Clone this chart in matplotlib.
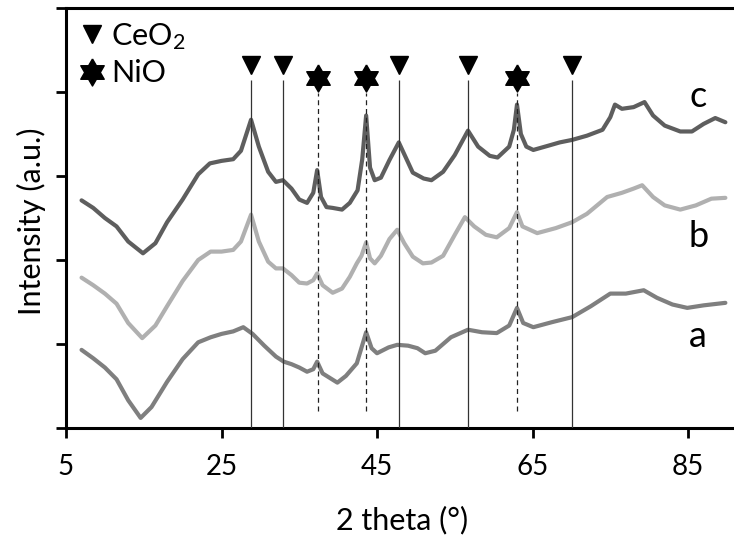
import matplotlib
matplotlib.use("Agg")
import matplotlib.pyplot as plt
from matplotlib.lines import Line2D

plt.rcParams['font.family'] = ['Lato', 'DejaVu Sans']
plt.rcParams['mathtext.fontset'] = 'custom'
plt.rcParams['mathtext.rm'] = 'Lato'
plt.rcParams['mathtext.default'] = 'regular'

# --- data ---
theta_c = [7.0, 8.5, 10, 11.5, 13, 14.9, 16.5, 18, 20, 22, 23.5, 25, 26.5, 27.5, 28.8, 29.8, 31, 32,
           32.9, 34, 35, 36, 36.8, 37.3, 37.8, 38.5, 39.3, 40.5, 41.5, 42.5, 43.1, 43.6, 44.1, 44.7,
           45.5, 46.6, 47.8, 48.8, 49.6, 51, 52, 53.5, 55, 56.7, 58, 59.5, 60.5, 62, 62.6, 63.0, 63.5,
           64.2, 65.1, 67, 68.5, 70.1, 72, 74, 75, 75.6, 76.5, 78, 79.4, 80.5, 82, 84, 85.5, 87, 88.5, 89.8]
int_c = [2.71, 2.62, 2.50, 2.40, 2.22, 2.08, 2.20, 2.45, 2.72, 3.02, 3.15, 3.18, 3.20, 3.30, 3.67, 3.35,
         3.05, 2.93, 2.95, 2.85, 2.72, 2.68, 2.80, 3.07, 2.75, 2.63, 2.62, 2.60, 2.68, 2.83, 3.20, 3.72,
         3.10, 2.95, 2.98, 3.19, 3.40, 3.20, 3.04, 2.97, 2.95, 3.05, 3.25, 3.54, 3.35, 3.24, 3.22, 3.35,
         3.55, 3.85, 3.50, 3.35, 3.31, 3.36, 3.40, 3.43, 3.48, 3.55, 3.70, 3.85, 3.80, 3.82, 3.88, 3.72,
         3.60, 3.53, 3.53, 3.62, 3.69, 3.64]

theta_b = [7.0, 8.5, 10, 11.5, 13, 14.8, 16.5, 18, 20, 22, 23.6, 25, 26.5, 27.5, 28.8, 29.8, 31, 32,
           32.9, 34, 35, 36, 36.8, 37.3, 38, 39.3, 40.5, 41.5, 42.4, 43.0, 43.6, 44.1, 44.7, 45.5, 46.6,
           47.6, 48.5, 49.6, 50.9, 52, 53.5, 55, 56.3, 57.5, 59, 60.4, 62, 63.0, 63.7, 65.6, 68, 70.1,
           72, 74.6, 76.5, 78, 79.1, 80.5, 82, 84, 86, 88, 89.8]
int_b = [1.79, 1.70, 1.60, 1.48, 1.25, 1.07, 1.22, 1.45, 1.75, 2.00, 2.10, 2.10, 2.12, 2.22, 2.54, 2.22,
         1.98, 1.90, 1.90, 1.82, 1.73, 1.72, 1.76, 1.84, 1.70, 1.61, 1.66, 1.80, 1.96, 2.05, 2.21, 2.02,
         1.96, 2.05, 2.25, 2.36, 2.20, 2.04, 1.96, 1.97, 2.05, 2.30, 2.51, 2.40, 2.30, 2.27, 2.38, 2.57,
         2.40, 2.32, 2.38, 2.45, 2.55, 2.75, 2.80, 2.85, 2.89, 2.75, 2.65, 2.60, 2.65, 2.73, 2.74]

theta_a = [7.0, 8.5, 10, 11.5, 13, 14.6, 16, 18, 20, 22, 23.6, 25, 26.5, 27.8, 29, 30.5, 32, 33, 34,
           35, 36, 36.8, 37.3, 38, 39.9, 41, 42.4, 43.6, 44.3, 45, 46.5, 47.6, 49, 50.2, 51.2, 52.5,
           54.5, 56.7, 58.5, 60.4, 62, 63.0, 63.8, 65.1, 67.5, 70.1, 72.5, 75, 77, 79.3, 81, 83, 84.9,
           87, 89.8]
int_a = [0.93, 0.83, 0.72, 0.58, 0.33, 0.12, 0.25, 0.55, 0.82, 1.02, 1.08, 1.12, 1.15, 1.20, 1.12, 0.98,
         0.85, 0.79, 0.76, 0.72, 0.67, 0.70, 0.79, 0.65, 0.54, 0.62, 0.77, 1.14, 0.95, 0.89, 0.96, 0.99,
         0.98, 0.95, 0.89, 0.92, 1.08, 1.17, 1.14, 1.13, 1.22, 1.43, 1.25, 1.20, 1.26, 1.32, 1.45, 1.60,
         1.60, 1.64, 1.55, 1.47, 1.43, 1.46, 1.49]

ceo2_peaks = [28.8, 32.9, 47.8, 56.7, 70.1]
nio_peaks = [37.4, 43.6, 63.0]
xticks = [5, 25, 45, 65, 85]

# hexagram marker for NiO
star6 = [(0, 1), (0.2887, 0.5), (0.866, 0.5), (0.5774, 0), (0.866, -0.5), (0.2887, -0.5),
         (0, -1), (-0.2887, -0.5), (-0.866, -0.5), (-0.5774, 0), (-0.866, 0.5), (-0.2887, 0.5), (0, 1)]

fig = plt.figure(figsize=(7.34, 5.43), dpi=100)
ax = fig.add_axes([66/734, 115/543, 668.7/734, 420/543])

style = dict(lw=3.0, zorder=2, solid_joinstyle='round', solid_capstyle='round')
ax.plot(theta_c, int_c, color='#5e5e5e', **style)
ax.plot(theta_b, int_b, color='#b0b0b0', **style)
ax.plot(theta_a, int_a, color='#7f7f7f', **style)

ax.vlines(ceo2_peaks, 0, 4.14, colors='#333333', lw=0.9, zorder=3)
ax.vlines(nio_peaks, 0.2, 3.99, colors='#222222', lw=0.9, linestyles=(0, (4, 3)), zorder=3)
ax.plot(ceo2_peaks, [4.32]*len(ceo2_peaks), 'v', color='black', ms=13, ls='none', clip_on=False)
ax.plot(nio_peaks, [4.17]*len(nio_peaks), marker=star6, color='black', ms=19.5, ls='none', clip_on=False)

ax.text(86.3, 3.82, 'c', fontsize=26, ha='center', va='baseline')
ax.text(86.3, 2.155, 'b', fontsize=26, ha='center', va='baseline')
ax.text(86.3, 0.964, 'a', fontsize=26, ha='center', va='baseline')

handles = [Line2D([], [], marker='v', color='black', ls='none', ms=13),
           Line2D([], [], marker=star6, color='black', ls='none', ms=19.5)]
ax.legend(handles, ['CeO$_2$', 'NiO'], loc='upper left', bbox_to_anchor=(-0.012, 1.02),
          frameon=False, fontsize=22, handlelength=0.8, handletextpad=0.25,
          labelspacing=0.25, borderpad=0.2)

ax.set_xlim(5, 91)
ax.set_ylim(0, 5)
ax.set_xticks(xticks)
ax.set_yticks([0, 1, 2, 3, 4, 5])
ax.set_yticklabels([])
ax.tick_params(axis='both', direction='out', length=7, width=2, labelsize=20)
ax.tick_params(axis='x', pad=12)
ax.spines['right'].set_visible(False)
for s in ['left', 'bottom', 'top']:
    ax.spines[s].set_linewidth(2.2)

ax.set_xlabel('2 theta (°)', fontsize=22, va='center')
ax.xaxis.set_label_coords(0.5025, -0.219)
ax.set_ylabel('Intensity (a.u.)', fontsize=22, va='center')
ax.yaxis.set_label_coords(-0.051, 0.493)

fig.savefig('out.png', dpi=100)
